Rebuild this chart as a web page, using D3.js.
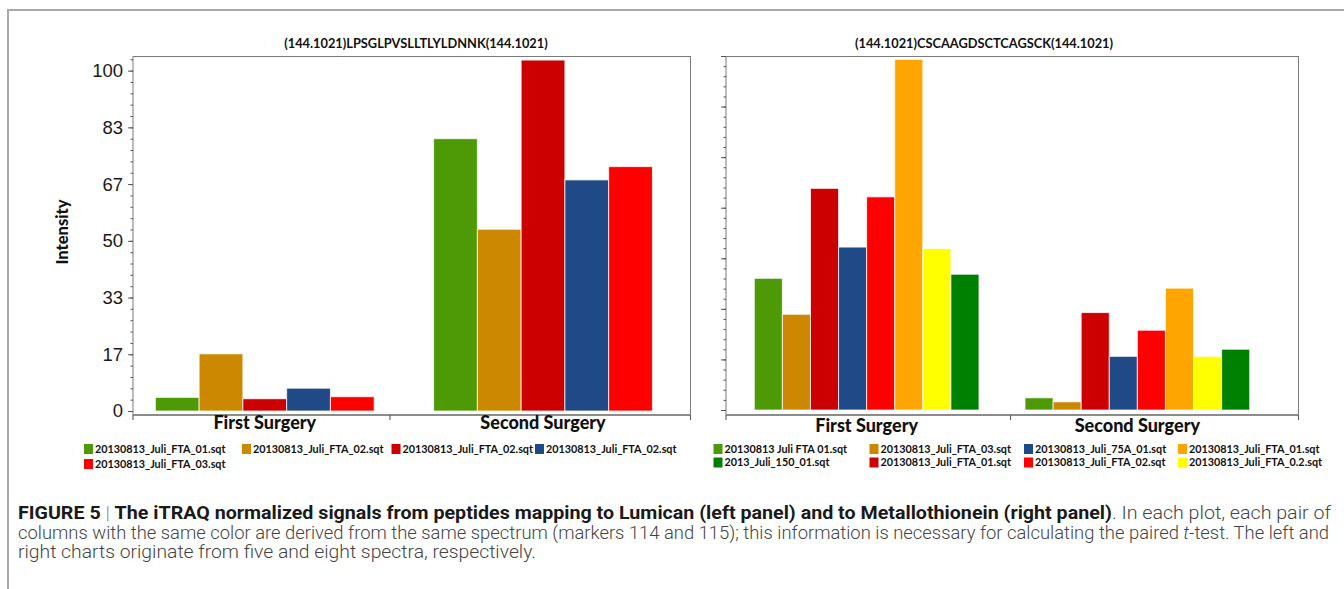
<!DOCTYPE html>
<html>
<head>
<meta charset="utf-8">
<script src="https://cdn.jsdelivr.net/npm/d3@7"></script>
<style>
  html, body { margin: 0; padding: 0; background: #fff; }
  svg { display: block; }
</style>
</head>
<body>
<svg id="fig" width="1344" height="589"></svg>
<script>
// ---- data ----
const groups = ["First Surgery", "Second Surgery"];

// Lumican peptide, five spectra
const lumTitle = "(144.1021)LPSGLPVSLLTLYLDNNK(144.1021)";
const lumSeries = [
  "20130813_Juli_FTA_01.sqt", "20130813_Juli_FTA_02.sqt", "20130813_Juli_FTA_02.sqt",
  "20130813_Juli_FTA_02.sqt", "20130813_Juli_FTA_03.sqt"
];
const lumColors = ["#4e9a06", "#cc8800", "#cc0000", "#204a87", "#ff0000"];
const lumFirst = [4.0, 16.8, 3.6, 6.7, 4.2];
const lumSecond = [80.0, 53.4, 103.1, 67.9, 71.8];
const lumLegendOrder = [0, 1, 2, 3, 4];

// Metallothionein peptide, eight spectra
const metTitle = "(144.1021)CSCAAGDSCTCAGSCK(144.1021)";
const metSeries = [
  "20130813 Juli FTA 01.sqt", "20130813_Juli_FTA_03.sqt", "20130813_Juli_FTA_01.sqt",
  "20130813_Juli_75A_01.sqt", "20130813_Juli_FTA_02.sqt", "20130813_Juli_FTA_01.sqt",
  "20130813_Juli_FTA_0.2.sqt", "2013_Juli_150_01.sqt"
];
const metColors = ["#4e9a06", "#cc8800", "#cc0000", "#204a87", "#ff0000", "#ffa500", "#ffff00", "#008000"];
const metFirst = [38.8, 28.2, 65.3, 48.0, 62.8, 103.3, 47.6, 40.0];
const metSecond = [3.6, 2.4, 28.7, 15.8, 23.5, 35.9, 15.8, 17.9];
const metLegendOrder = [0, 7, 1, 2, 3, 4, 5, 6];

// y axis
const yMax = 104.3;
const yTickValues = [0, 100 / 6, 200 / 6, 50, 400 / 6, 500 / 6, 100];
const yTickLabels = ["0", "17", "33", "50", "67", "83", "100"];

// caption
const captionLines = [
  [
    { t: "FIGURE 5", b: true },
    { t: " | ", b: false, c: "#888" },
    { t: "The iTRAQ normalized signals from peptides mapping to Lumican (left panel) and to Metallothionein (right panel)", b: true },
    { t: ". In each plot, each pair of", b: false }
  ],
  [
    { t: "columns with the same color are derived from the same spectrum (markers 114 and 115); this information is necessary for calculating the paired ", b: false },
    { t: "t", b: false, i: true },
    { t: "-test. The left and", b: false }
  ],
  [
    { t: "right charts originate from five and eight spectra, respectively.", b: false }
  ]
];

// ---- drawing ----
const svg = d3.select("#fig");

// figure border
svg.append("path")
  .attr("d", "M8,589V10H1344")
  .attr("fill", "none")
  .attr("stroke", "#a9a9a9")
  .attr("stroke-width", 2);

const frameTop = 56.5, frameBottom = 415;

function drawPanel(cfg) {
  const g = svg.append("g");
  const rows = groups.map((name, gi) => ({ name, values: gi === 0 ? cfg.first : cfg.second }));

  const x = d3.scaleBand().domain(groups).range([cfg.x0, cfg.x1])
    .paddingInner(cfg.padIn).paddingOuter(cfg.padOut).align(cfg.align);
  const xs = d3.scaleBand().domain(d3.range(cfg.series.length)).range([0, x.bandwidth()]);
  const y = d3.scaleLinear().domain([0, yMax]).range([cfg.yZero, 56]);

  // title
  g.append("text")
    .attr("x", cfg.titleX).attr("y", 48)
    .attr("text-anchor", "middle")
    .attr("font-family", "Lato, 'Open Sans', sans-serif")
    .attr("font-weight", "bold")
    .attr("font-size", 12.8)
    .attr("fill", "#111")
    .text(cfg.title);

  // bars
  g.selectAll("g.grp").data(rows).join("g")
    .attr("class", "grp")
    .attr("transform", d => `translate(${x(d.name)},0)`)
    .selectAll("rect").data(d => d.values.map((v, i) => ({ v, i }))).join("rect")
    .attr("x", d => xs(d.i))
    .attr("width", xs.bandwidth())
    .attr("y", d => y(d.v))
    .attr("height", d => y(0) - y(d.v))
    .attr("fill", d => cfg.colors[d.i])
    .attr("stroke", "rgba(255,255,255,0.75)")
    .attr("stroke-width", 1);

  // frame
  g.append("rect")
    .attr("x", cfg.x0).attr("y", frameTop)
    .attr("width", cfg.x1 - cfg.x0).attr("height", frameBottom - frameTop)
    .attr("fill", "none").attr("stroke", "#7a7a7a").attr("stroke-width", 1);

  // x axis line with end and separator ticks
  const sepX = cfg.x0 + cfg.sepFrac * (cfg.x1 - cfg.x0);
  g.append("line")
    .attr("x1", cfg.x0).attr("x2", cfg.x1)
    .attr("y1", frameBottom).attr("y2", frameBottom)
    .attr("stroke", "#8c8c8c").attr("stroke-width", 2);
  [cfg.x0, sepX, cfg.x1].forEach(px => {
    g.append("line")
      .attr("x1", px).attr("x2", px)
      .attr("y1", frameBottom).attr("y2", frameBottom + 5)
      .attr("stroke", "#666").attr("stroke-width", 1.2);
  });

  // y axis: minor then major ticks
  const minorAxis = d3.axisLeft(y).tickValues(d3.range(0, cfg.minorCount + 1).map(k => k * cfg.minorStep))
    .tickSize(2.5).tickFormat("");
  const gMinor = g.append("g").attr("transform", `translate(${cfg.x0},0)`).call(minorAxis);
  gMinor.select(".domain").remove();
  gMinor.selectAll("line").attr("stroke", "#555");

  const majorAxis = d3.axisLeft(y).tickValues(cfg.majorValues)
    .tickSize(5).tickPadding(5)
    .tickFormat((d, i) => cfg.majorLabels ? cfg.majorLabels[i] : "");
  const gMajor = g.append("g").attr("transform", `translate(${cfg.x0},0)`).call(majorAxis);
  gMajor.select(".domain").remove();
  gMajor.selectAll("line").attr("stroke", "#555");
  gMajor.selectAll("text")
    .attr("font-family", "'Liberation Sans', Arial, sans-serif")
    .attr("font-size", 18.5)
    .attr("fill", "#1a1a1a");

  // group labels
  g.selectAll("text.glabel").data(groups).join("text")
    .attr("class", "glabel")
    .attr("x", d => x(d) + x.bandwidth() / 2)
    .attr("y", cfg.labelY)
    .attr("text-anchor", "middle")
    .attr("font-family", "Lato, 'Open Sans', sans-serif")
    .attr("font-weight", 900)
    .attr("font-size", 18)
    .attr("fill", "#111")
    .text(d => d);

  // legend
  const items = cfg.legendOrder.map((si, k) => {
    const col = cfg.legendByColumn ? Math.floor(k / 2) : k % cfg.legendX.length;
    const row = cfg.legendByColumn ? k % 2 : Math.floor(k / cfg.legendX.length);
    return { si, col, row };
  });
  const lg = g.selectAll("g.leg").data(items).join("g")
    .attr("class", "leg")
    .attr("transform", d => `translate(${cfg.legendX[d.col]},${cfg.legendY[d.row]})`);
  lg.append("rect")
    .attr("x", 0).attr("y", -5).attr("width", 9).attr("height", 10)
    .attr("fill", d => cfg.colors[d.si]);
  lg.append("text")
    .attr("x", 11).attr("y", 0).attr("dy", "0.35em")
    .attr("font-family", "Lato, 'Open Sans', sans-serif")
    .attr("font-weight", "bold")
    .attr("font-size", 10.8)
    .attr("fill", "#111")
    .text(d => cfg.series[d.si]);
}

drawPanel({
  title: lumTitle, titleX: 416,
  series: lumSeries, colors: lumColors, first: lumFirst, second: lumSecond,
  x0: 133, x1: 690.5, yZero: 411,
  padIn: 0.2136, padOut: 0.1086, align: 0.37, sepFrac: 0.461,
  labelY: 429,
  majorValues: yTickValues, majorLabels: yTickLabels,
  minorStep: 100 / 30, minorCount: 31,
  legendOrder: lumLegendOrder, legendByColumn: false,
  legendX: [84, 242, 391.5, 535], legendY: [449, 464]
});

drawPanel({
  title: metTitle, titleX: 984,
  series: metSeries, colors: metColors, first: metFirst, second: metSecond,
  x0: 726, x1: 1298.5, yZero: 410,
  padIn: 0.17, padOut: 0.1424, align: 0.367, sepFrac: 0.497,
  labelY: 432,
  majorValues: d3.range(0, 8).map(k => k * yMax / 7), majorLabels: null,
  minorStep: yMax / 35, minorCount: 35,
  legendOrder: metLegendOrder, legendByColumn: true,
  legendX: [713.5, 869.5, 1024, 1178], legendY: [449, 462.5]
});

// y axis title
svg.append("text")
  .attr("transform", "translate(62,232) rotate(-90)")
  .attr("text-anchor", "middle")
  .attr("dy", "0.35em")
  .attr("font-family", "Lato, 'Open Sans', sans-serif")
  .attr("font-weight", 900)
  .attr("font-size", 16.5)
  .attr("fill", "#111")
  .text("Intensity");

// caption
const capWidths = [1313, 1311, 518];
const capY = [519, 539, 558];
captionLines.forEach((parts, li) => {
  const t = svg.append("text")
    .attr("x", 18).attr("y", capY[li])
    .attr("font-family", "Roboto, 'Liberation Sans', sans-serif")
    .attr("font-size", 18)
    .attr("textLength", capWidths[li])
    .attr("lengthAdjust", "spacingAndGlyphs");
  parts.forEach(p => {
    t.append("tspan")
      .attr("font-weight", p.b ? 700 : 300)
      .attr("font-style", p.i ? "italic" : "normal")
      .attr("fill", p.c || (p.b ? "#1a1a1a" : "#444"))
      .text(p.t);
  });
});
</script>
</body>
</html>
